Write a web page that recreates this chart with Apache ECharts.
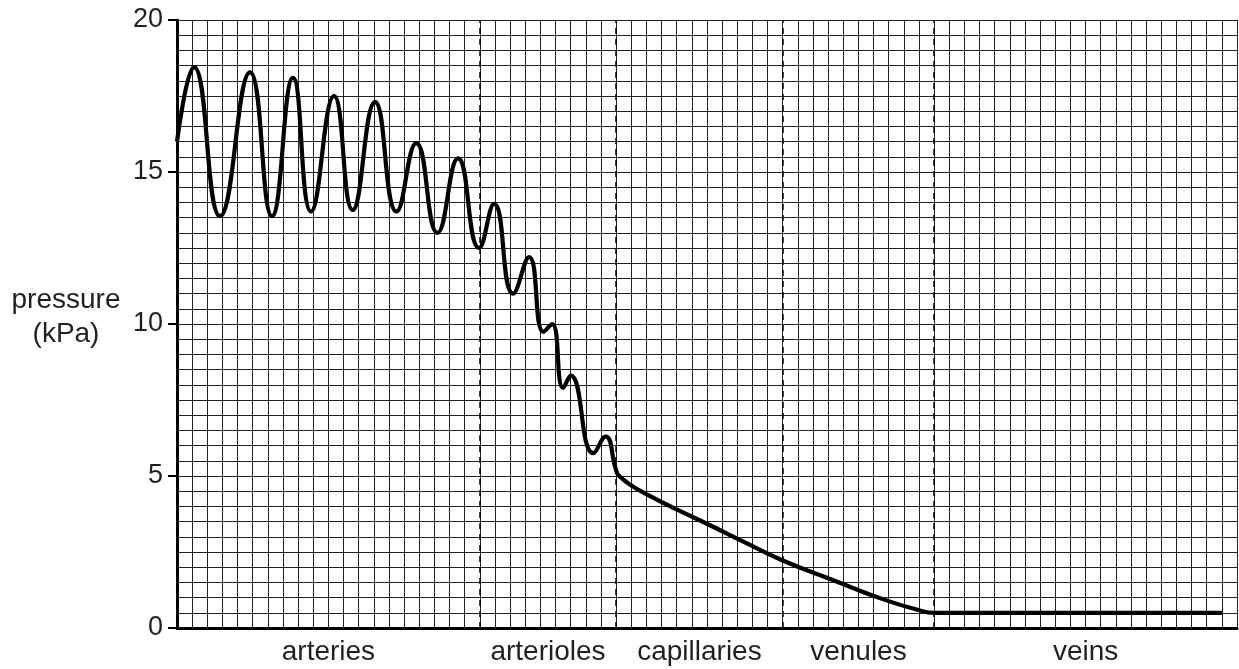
<!DOCTYPE html>
<html>
<head>
<meta charset="utf-8">
<script src="https://cdn.jsdelivr.net/npm/echarts@6/dist/echarts.min.js"></script>
<style>html,body{margin:0;padding:0;background:#fff;}#c{width:1239px;height:669px;}</style>
</head>
<body>
<div id="c"></div>
<script>
// distance along the system (grid squares) and pressure (kPa)
const distance = [0, 1.12, 2.84, 4.82, 6.27, 7.66, 8.85, 10.37, 11.6, 13.08, 14.5, 15.8, 17.2, 18.56, 19.95, 20.94, 22.2, 23.25, 24.2, 24.77, 25.5, 26.0, 27.5, 28.3, 29.06, 29.4, 29.9, 30.9, 33.0, 35.2, 37.4, 40, 43.3, 46.6, 48.9, 50, 52, 69];
const pressure = [16, 18.45, 13.55, 18.28, 13.55, 18.1, 13.7, 17.5, 13.75, 17.3, 13.7, 15.95, 13.0, 15.45, 12.5, 13.95, 11.0, 12.2, 9.74, 10.0, 7.9, 8.3, 5.75, 6.3, 5.1, 4.92, 4.72, 4.43, 3.9, 3.38, 2.84, 2.22, 1.58, 0.95, 0.6, 0.5, 0.5, 0.5];
const boundaries = [20, 29, 40, 50];
const vesselNames = ['arteries', 'arterioles', 'capillaries', 'venules', 'veins'];
const vesselCentres = [10, 24.5, 34.5, 45, 60];
const yTicks = [0, 5, 10, 15, 20];

const font = '"Liberation Sans", Arial, Helvetica, sans-serif';
const txt = '#231f20';
const chart = echarts.init(document.getElementById('c'));
chart.setOption({
  animation: false,
  backgroundColor: '#fff',
  grid: { left: 177, right: 2, top: 20, bottom: 41, containLabel: false },
  graphic: [{
    type: 'text', x: 66, y: 300,
    style: { text: 'pressure', font: '28px ' + font, fill: txt, textAlign: 'center', textVerticalAlign: 'middle' }
  }, {
    type: 'text', x: 66, y: 334,
    style: { text: '(kPa)', font: '28px ' + font, fill: txt, textAlign: 'center', textVerticalAlign: 'middle' }
  }],
  xAxis: [{
    type: 'value', min: 0, max: 70, interval: 1,
    axisLine: { show: true, onZero: false, lineStyle: { color: '#000', width: 3 } },
    axisTick: { show: false }, axisLabel: { show: false },
    splitLine: { show: true, lineStyle: { color: '#222', width: 1 } }
  }, {
    type: 'value', min: 0, max: 70, position: 'bottom',
    axisLine: { show: false }, axisTick: { show: false }, splitLine: { show: false },
    axisLabel: {
      show: true, customValues: vesselCentres, margin: 10,
      fontSize: 28, fontFamily: font, color: txt,
      formatter: v => vesselNames[vesselCentres.indexOf(v)]
    }
  }],
  yAxis: [{
    type: 'value', min: 0, max: 20, interval: 0.5,
    axisLine: { show: true, lineStyle: { color: '#000', width: 3 } },
    axisTick: { show: false }, axisLabel: { show: false },
    splitLine: { show: true, lineStyle: { color: '#222', width: 1 } }
  }, {
    type: 'value', min: 0, max: 20, interval: 5, position: 'left',
    axisLine: { show: false }, splitLine: { show: false },
    axisTick: { show: true, length: 9, lineStyle: { color: '#000', width: 2 } },
    axisLabel: { show: true, margin: 14, fontSize: 27, fontFamily: font, color: txt,
      formatter: v => (yTicks.indexOf(v) >= 0 ? String(v) : '') }
  }],
  series: [{
    type: 'line', xAxisIndex: 0, yAxisIndex: 0,
    data: distance.map((d, i) => [d, pressure[i]]),
    smooth: 0.5, symbol: 'none',
    lineStyle: { color: '#000', width: 4.2 },
    markLine: {
      silent: true, symbol: 'none', label: { show: false },
      lineStyle: { color: '#000', width: 1.5, type: [6, 5] },
      data: boundaries.map(b => ({ xAxis: b }))
    }
  }]
});
</script>
</body>
</html>
